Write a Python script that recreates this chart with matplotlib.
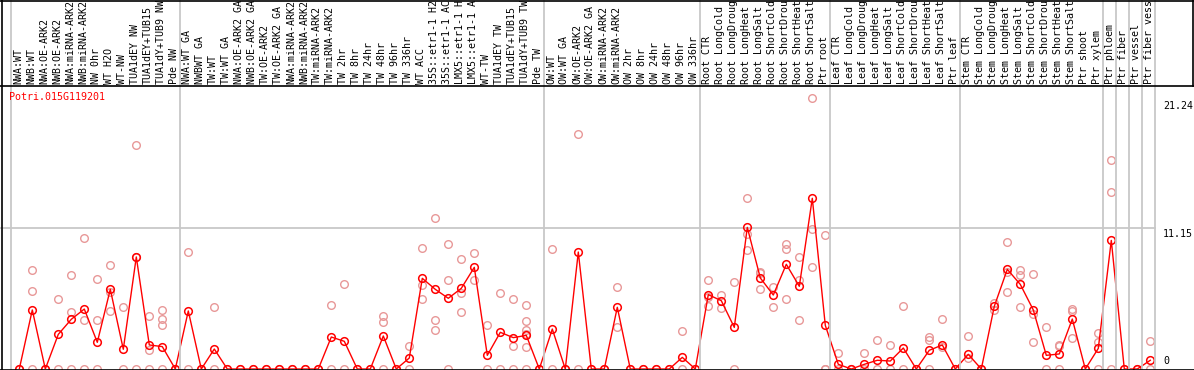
import matplotlib
matplotlib.use("Agg")
import matplotlib.pyplot as plt
from matplotlib import transforms
from matplotlib.lines import Line2D

# ---------------- data ----------------
title = "Potri.015G119201"

samples = [
    "NWA:WT", "NWB:WT", "NWA:OE-ARK2", "NWB:OE-ARK2", "NWA:miRNA-ARK2", "NWB:miRNA-ARK2",
    "NW 0hr", "WT H2O", "WT-NW", "TUA1dEY NW", "TUA1dEY+TUB15", "TUA1dY+TUB9 NW", "Pde NW",
    "NWA:WT GA", "NWBWT GA", "TW:WT", "TW:WT GA", "NWA:OE-ARK2 GA", "NWB:OE-ARK2 GA",
    "TW:OE-ARK2", "TW:OE-ARK2 GA", "NWA:miRNA-ARK2", "NWB:miRNA-ARK2", "TW:miRNA-ARK2",
    "TW:miRNA-ARK2", "TW 2hr", "TW 8hr", "TW 24hr", "TW 48hr", "TW 96hr", "TW 336hr",
    "WT ACC", "35S::etr1-1 H2", "35S::etr1-1 AC", "LMX5::etr1-1 H", "LMX5::etr1-1 A",
    "WT-TW", "TUA1dEY TW", "TUA1dEY+TUB15", "TUA1dY+TUB9 TW", "Pde TW",
    "OW:WT", "OW:WT GA", "OW:OE-ARK2", "OW:OE-ARK2 GA", "OW:miRNA-ARK2", "OW:miRNA-ARK2",
    "OW 2hr", "OW 8hr", "OW 24hr", "OW 48hr", "OW 96hr", "OW 336hr",
    "Root CTR", "Root LongCold", "Root LongDroug", "Root LongHeat", "Root LongSalt",
    "Root ShortCold", "Root ShortDrou", "Root ShortHeat", "Root ShortSalt", "Ptr root",
    "Leaf CTR", "Leaf LongCold", "Leaf LongDroug", "Leaf LongHeat", "Leaf LongSalt",
    "Leaf ShortCold", "Leaf ShortDrou", "Leaf ShortHeat", "Leaf ShortSalt", "Ptr leaf",
    "Stem CTR", "Stem LongCold", "Stem LongDroug", "Stem LongHeat", "Stem LongSalt",
    "Stem ShortCold", "Stem ShortDrou", "Stem ShortHeat", "Stem ShortSalt", "Ptr shoot",
    "Ptr xylem", "Ptr phloem", "Ptr fiber", "Ptr vessel", "Ptr fiber vess",
]

# first sample index of each group (group separators)
group_starts = [0, 13, 41, 53, 63, 73, 84, 85, 86, 87, 88]

means = [
    0, 4.67, 0, 2.74, 3.93, 4.74, 2.11, 6.30, 1.56, 8.86, 1.90, 1.77, 0,
    4.59, 0, 1.58, 0, 0, 0, 0, 0, 0, 0, 0, 2.53, 2.19, 0, 0, 2.61, 0, 0.87,
    7.17, 6.30, 5.59, 6.38, 8.04, 1.08, 2.90, 2.48, 2.66, 0,
    3.16, 0, 9.25, 0, 0, 4.88, 0, 0, 0, 0, 0.92, 0,
    5.88, 5.40, 3.29, 11.20, 7.20, 5.85, 8.28, 6.54, 13.50, 3.45,
    0.37, 0, 0.37, 0.69, 0.63, 1.66, 0, 1.48, 1.90, 0,
    1.16, 0, 4.96, 7.88, 6.69, 4.67, 1.08, 1.19, 3.95, 0, 1.63,
    10.17, 0, 0, 0.69,
]

replicates = [
    [0], [7.80, 6.17, 0], [0], [5.51, 0], [7.43, 4.51, 0], [10.33, 3.85, 0],
    [7.12, 3.85, 0], [8.22, 6.09, 4.59], [4.90, 0], [17.71, 8.86, 0], [4.16, 1.48, 0],
    [4.67, 3.95, 3.45, 0], [0],
    [9.25, 0], [0], [4.88, 0], [0], [0], [0], [0], [0], [0], [0], [0],
    [5.03, 0], [6.69, 0], [0], [0], [3.69, 4.16, 0], [0], [1.82, 0],
    [9.54, 6.64, 5.51], [11.91, 3.85, 3.06], [9.86, 7.01, 0], [8.67, 5.98, 4.51],
    [9.15, 7.01], [3.45, 0], [5.98, 0], [5.51, 1.79, 0],
    [5.03, 3.80, 3.06, 2.74, 1.71, 0], [0],
    [9.46, 0], [0], [18.58, 0], [0], [0], [6.46, 3.29], [0], [0], [0], [0],
    [2.98, 0], [0],
    [7.01, 5.67, 4.96], [5.85, 4.80], [6.85, 0], [13.50, 10.67, 9.38],
    [7.70, 7.56, 6.33], [6.46, 4.93], [9.91, 9.46, 5.51], [8.83, 7.01, 3.85],
    [21.43, 11.07, 8.04], [10.60, 0, 0],
    [1.24, 0], [0], [1.24, 0], [2.29, 0], [1.90, 0], [4.96, 0], [0],
    [2.53, 2.29, 0], [3.95, 1.71], [0],
    [2.61, 0.87], [0], [5.25, 4.67], [10.04, 7.67, 6.06], [7.83, 7.43, 4.88],
    [7.51, 4.38, 2.11], [3.32, 0], [1.92, 1.79, 0], [4.77, 4.61, 2.45], [0],
    [2.85, 2.13, 0],
    [16.53, 13.97, 0], [0], [0], [2.19, 0],
]

ytick_values = [21.24, 11.15, 0]
ytick_labels = ["21.24", "11.15", "0"]
grid_values = [11.15]

# ---------------- layout ----------------
W, H = 1194, 370
DPI = 100
fig = plt.figure(figsize=(W / DPI, H / DPI), dpi=DPI)
fig.patch.set_facecolor("white")

plot_top_px = 85
plot_bot_px = 369
ax = fig.add_axes([0, (H - plot_bot_px) / H, 1, (plot_bot_px - plot_top_px) / H])
for s in ax.spines.values():
    s.set_visible(False)
ax.set_xticks([])
ax.set_yticks([])

px_per_unit = 141 / 11.15
x0_px, step_px = 19.3, 13.0
ax.set_xlim(-x0_px / step_px, (W - x0_px) / step_px)
ax.set_ylim(0, (plot_bot_px - plot_top_px) / px_per_unit)

mono = "DejaVu Sans Mono"
fs = 7.2
red = "#ff0000"
pink = "#e89898"
gray = "#c8c8c8"

xs = list(range(len(samples)))
sep_off = 0.64
x_end = group_starts[-1] - sep_off

# grid line(s)
for g in grid_values:
    ax.plot([-2, x_end], [g, g], color=gray, lw=1.3, zorder=1)

# group separators spanning full height
bt = transforms.blended_transform_factory(ax.transData, fig.transFigure)
for k in group_starts:
    fig.add_artist(Line2D([k - sep_off, k - sep_off], [0, 1 - 1 / H], transform=bt,
                          color=gray, lw=1.3, zorder=1))

# replicate points
for i, reps in enumerate(replicates):
    ax.plot([i] * len(reps), reps, linestyle="none", marker="o", ms=5.5,
            mfc="none", mec=pink, mew=1.0, zorder=2)

# mean line + markers
ax.plot(xs, means, color=red, lw=1.0, marker="o", ms=5.5, mfc="none",
        mec=red, mew=1.1, zorder=3)

# sample labels (rotated, above plot)
for i, lab in enumerate(samples):
    ax.text(i - 0.1, 1 - 84 / H, lab, transform=bt, rotation=90, ha="center",
            va="bottom", family=mono, fontsize=fs, color="black", clip_on=False)

# y tick labels at right
bt_y = transforms.blended_transform_factory(fig.transFigure, ax.transData)
for v, t in zip(ytick_values, ytick_labels):
    if v == 0:
        ax.text(1163 / W, v + 0.25, t, transform=bt_y, ha="left", va="bottom",
                family=mono, fontsize=fs)
    else:
        ax.text(1163 / W, v - 0.05, t, transform=bt_y, ha="left", va="top",
                family=mono, fontsize=fs)

# title
fig.text(9 / W, 1 - 97 / H, title, ha="left", va="center", family=mono,
         fontsize=fs, color=red)

# frame lines
def fig_line(x_px, y_px, lw=1.2, color="black"):
    fig.add_artist(Line2D([x / W for x in x_px], [1 - y / H for y in y_px],
                          color=color, lw=lw, transform=fig.transFigure, zorder=5))

fig_line([0, W], [0.5, 0.5])            # top border
fig_line([0, W], [85.5, 85.5])          # separator under labels
fig_line([0, W], [369.5, 369.5])        # bottom axis line
fig_line([1.5, 1.5], [0, 370])          # left border
fig_line([1193, 1193], [0, 86])         # right border of label strip

fig.savefig("out.png", dpi=DPI, facecolor="white")
